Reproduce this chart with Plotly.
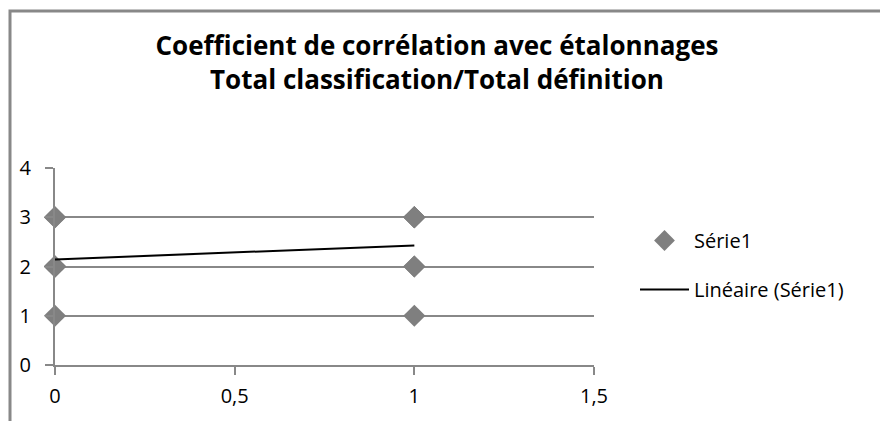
import numpy as np
import plotly.graph_objects as go

# Data
x_vals = [0, 0, 0, 0, 0, 0, 0, 1, 1, 1, 1, 1, 1, 1]
y_vals = [1, 2, 2, 2, 2, 3, 3, 1, 2, 2, 3, 3, 3, 3]
series_name = "Série1"
trend_name = "Linéaire (Série1)"
title_lines = ["Coefficient de corrélation avec étalonnages", "Total classification/Total définition"]
x_tickvals = [0, 0.5, 1, 1.5]
x_ticktext = ["0", "0,5", "1", "1,5"]
y_tickvals = [0, 1, 2, 3, 4]

slope, intercept = np.polyfit(x_vals, y_vals, 1)
trend_x = [min(x_vals), max(x_vals)]
trend_y = [intercept + slope * v for v in trend_x]

FONT = "'Open Sans', Lato, sans-serif"
GRID = "#888888"

fig = go.Figure()
fig.add_trace(go.Scatter(
    x=x_vals, y=y_vals, mode="markers", name=series_name, legendgroup="a",
    marker=dict(symbol="diamond", size=17, color="#7f7f7f", line=dict(width=0)),
    cliponaxis=False,
))
fig.add_trace(go.Scatter(
    x=trend_x, y=trend_y, mode="lines", name=trend_name, legendgroup="b",
    line=dict(color="black", width=2),
))

W, H = 888, 421
OFF = 8  # page body margin offset
L, R, T, B = 55 - OFF, W - (594 - OFF), 168 - OFF, H - (365 - OFF)
pw = W - L - R
ph = H - T - B

def px_to_paper_x(px):
    return (px - OFF - L) / pw

def px_to_paper_y(py):
    return (H - B - (py - OFF)) / ph

fig.update_layout(
    width=W, height=H,
    margin=dict(l=L, r=R, t=T, b=B, autoexpand=False),
    paper_bgcolor="white", plot_bgcolor="white",
    font=dict(family=FONT, size=20, color="black"),
    title=dict(
        text="<b>" + "<br>".join(title_lines) + "</b>",
        x=px_to_paper_x(437), xref="paper", xanchor="center",
        y=1 - 47 / H, yref="container", yanchor="top",
        font=dict(family=FONT, size=26, color="black"),
    ),
    showlegend=True,
    legend=dict(
        x=px_to_paper_x(635), xanchor="left",
        y=px_to_paper_y(221), yanchor="top",
        font=dict(family=FONT, size=20, color="black"),
        bgcolor="rgba(0,0,0,0)",
        tracegroupgap=20,
        itemwidth=49,
    ),
    xaxis=dict(
        range=[0, 1.5], tickvals=x_tickvals, ticktext=x_ticktext,
        showgrid=False, zeroline=False, automargin=False,
        showline=True, linecolor=GRID, linewidth=2,
        ticks="outside", ticklen=8, tickcolor=GRID, tickwidth=2,
        tickfont=dict(family=FONT, size=20, color="black"),
        ticklabelstandoff=4,
    ),
    yaxis=dict(
        range=[0, 4], tickvals=y_tickvals,
        showgrid=True, gridcolor=GRID, gridwidth=2,
        zeroline=False, automargin=False,
        showline=True, linecolor=GRID, linewidth=2,
        ticks="outside", ticklen=8, tickcolor=GRID, tickwidth=2,
        tickfont=dict(family=FONT, size=20, color="black"),
        ticklabelstandoff=10,
    ),
    shapes=[dict(
        type="rect", xref="paper", yref="paper",
        x0=px_to_paper_x(10), x1=px_to_paper_x(883),
        y0=px_to_paper_y(440), y1=px_to_paper_y(11),
        line=dict(color=GRID, width=3), fillcolor="rgba(0,0,0,0)", layer="below",
    )],
)

fig.write_html("out.html")
